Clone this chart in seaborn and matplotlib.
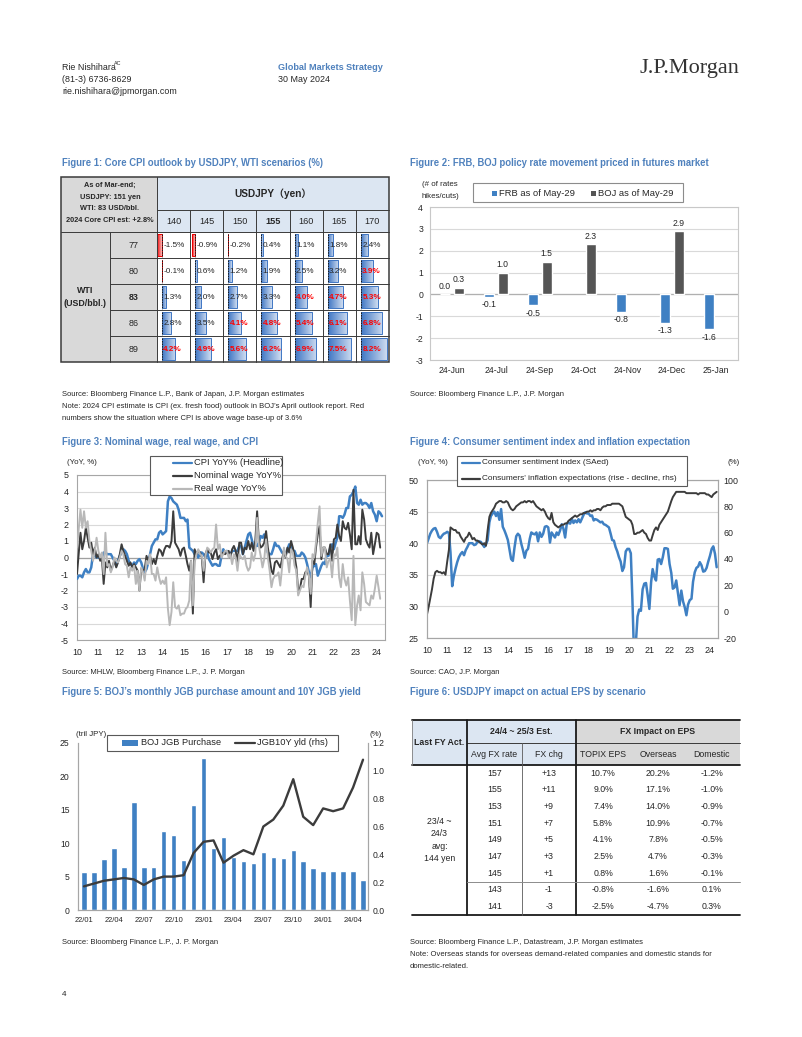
import numpy as np
import pandas as pd
import matplotlib
matplotlib.use("Agg")
import matplotlib.pyplot as plt
import matplotlib.dates as mdates
import seaborn as sns
from matplotlib import font_manager
from matplotlib.patches import Rectangle
from matplotlib.lines import Line2D
from matplotlib.colors import LinearSegmentedColormap

# ============================ DATA ============================
# Figure 1: core CPI grid (rows: WTI, cols: USDJPY)
usdjpy_levels = [140, 145, 150, 155, 160, 165, 170]
wti_levels = [77, 80, 83, 86, 89]
core_cpi_wti77 = [-1.5, -0.9, -0.2, 0.4, 1.1, 1.8, 2.4]
core_cpi_wti80 = [-0.1, 0.6, 1.2, 1.9, 2.5, 3.2, 3.9]
core_cpi_wti83 = [1.3, 2.0, 2.7, 3.3, 4.0, 4.7, 5.3]
core_cpi_wti86 = [2.8, 3.5, 4.1, 4.8, 5.4, 6.1, 6.8]
core_cpi_wti89 = [4.2, 4.9, 5.6, 6.2, 6.9, 7.5, 8.2]
wage_baseup = 3.6
bold_usdjpy = 155
bold_wti = 83

# Figure 2: policy rate moves priced (# of hikes/cuts)
fig2_months = ['24-Jun', '24-Jul', '24-Sep', '24-Oct', '24-Nov', '24-Dec', '25-Jan']
frb_moves = [0.0, -0.1, -0.5, np.nan, -0.8, -1.3, -1.6]
boj_moves = [0.3, 1.0, 1.5, 2.3, np.nan, 2.9, np.nan]

# Figure 3: monthly YoY %, Jan-2010 onwards
cpi_yoy = [
    -1.3, -1.1, -1.1, -1.2, -0.9, -0.7, -0.9, -0.9, -0.6, 0.2, 0.1, 0.0,
    0.0, 0.0, 0.0, 0.3, 0.3, 0.2, 0.2, 0.2, 0.0, -0.2, -0.5, -0.2,
    0.1, 0.3, 0.5, 0.4, 0.2, -0.2, -0.4, -0.5, -0.3, -0.4, -0.2, -0.1,
    -0.3, -0.7, -0.9, -0.7, -0.3, 0.2, 0.7, 0.9, 1.1, 1.1, 1.5, 1.6,
    1.4, 1.5, 1.6, 3.4, 3.7, 3.6, 3.4, 3.3, 3.2, 2.9, 2.4, 2.4,
    2.4, 2.2, 2.3, 0.6, 0.5, 0.4, 0.2, 0.2, 0.0, 0.3, 0.3, 0.2,
    0.0, 0.3, -0.1, -0.3, -0.5, -0.4, -0.4, -0.5, -0.5, 0.1, 0.5, 0.3,
    0.4, 0.3, 0.2, 0.4, 0.4, 0.4, 0.4, 0.7, 0.7, 0.2, 0.6, 1.0,
    1.4, 1.5, 1.1, 0.6, 0.7, 0.7, 0.9, 1.3, 1.2, 1.4, 0.8, 0.3,
    0.2, 0.2, 0.5, 0.9, 0.7, 0.7, 0.5, 0.3, 0.2, 0.2, 0.5, 0.8,
    0.7, 0.4, 0.4, 0.1, 0.1, 0.1, 0.3, 0.2, 0.0, -0.4, -0.9, -1.2,
    -0.6, -0.5, -0.4, -1.1, -0.8, -0.5, -0.3, -0.4, 0.2, 0.1, 0.6, 0.8,
    0.5, 0.9, 1.2, 2.5, 2.5, 2.4, 2.6, 3.0, 3.0, 3.7, 3.8, 4.0,
    4.3, 3.3, 3.2, 3.5, 3.2, 3.3, 3.3, 3.2, 3.0, 3.3, 2.8, 2.6,
    2.2, 2.8, 2.7, 2.5]
nominal_wage_yoy = [
    -1.0, 0.3, 1.5, 0.5, 1.0, 1.8, 1.2, 0.6, 0.9, 0.2, 0.6, 0.0,
    0.2, -0.2, 0.0, -1.6, -0.3, -0.6, -0.2, -0.8, -0.5, -0.2, -0.6, -0.3,
    0.2, 0.8, 0.4, 0.1, -0.2, -0.5, -0.3, -0.6, -0.4, -0.6, -0.8, -2.0,
    -0.7, -0.8, -0.7, 0.1, -0.2, 0.1, -0.4, -0.1, -0.4, 0.1, 0.5, 0.4,
    0.1, 0.5, 0.7, 0.7, 0.6, 1.0, 2.8, 0.9, 0.7, 0.5, 0.1, 0.5,
    0.6, 0.1, -0.4, -0.8, -0.2, -3.4, 0.5, 0.2, 0.4, 0.3, 0.0, -1.5,
    0.2, 0.5, 0.3, 0.3, -0.1, 0.3, 0.5, -0.1, 0.1, 0.2, 0.3, 0.2,
    0.3, 0.4, 0.0, 0.5, 0.7, 0.4, -0.3, 0.9, 0.9, 0.2, 0.6, 0.5,
    1.0, 0.5, 0.9, 0.4, 1.0, 2.8, 1.0, 0.6, 0.7, 0.9, 1.6, 0.6,
    -0.1, -0.8, -1.0, -0.3, -0.2, -0.4, -0.6, -0.1, 0.4, 0.0, 0.6, 0.3,
    1.0, 0.6, 0.1, -0.6, -2.0, -1.9, -1.3, -1.3, -0.9, -0.8, -1.1, -3.0,
    -0.2, -0.4, 0.6, 1.4, 1.9, -0.1, 0.6, 0.6, 0.2, 0.2, 0.8, -0.2,
    1.1, 1.2, 2.0, 1.3, 1.0, 2.2, 1.8, 1.7, 2.1, 1.4, 0.5, 4.1,
    0.8, 0.8, 1.3, 0.8, 2.9, 2.3, 1.1, 0.8, 0.6, 1.5, 0.2, 0.8,
    1.5, 1.4, 0.6]
real_wage_yoy = [
    0.6, 1.8, 2.9, 1.8, 2.8, 1.8, 2.2, 1.0, 0.4, -0.2, 0.4, 1.2,
    0.4, 0.0, 0.3, -1.0, 1.5, -0.5, -0.4, -0.9, -0.6, 0.0, -0.2, -0.3,
    0.0, 0.4, 0.2, -0.4, -0.5, -1.2, -0.6, -0.8, -0.5, -1.6, -0.8, -2.0,
    -0.6, -0.9, -1.4, -0.2, -0.4, 0.2, -1.0, -1.0, -1.4, -0.6, -1.2, -1.6,
    -1.4, -1.6, -1.2, -3.1, -4.1, -3.3, -1.5, -3.0, -3.1, -2.9, -3.5, -3.4,
    -3.4, -3.1, -3.0, -2.6, -0.2, -2.9, -0.3, 0.2, 0.5, 0.2, 0.1, -0.8,
    0.1, 0.6, 0.5, 0.3, 0.5, 0.6, 2.0, 0.5, 0.8, 0.0, 0.2, 0.4,
    0.4, 0.0, 0.2, -0.4, 0.2, 0.0, -0.8, 0.2, 0.0, -0.1, 0.1, -0.5,
    -0.8, -0.6, 0.3, -0.2, 0.2, 2.4, 0.7, 0.1, -0.6, -0.1, 1.1, 0.0,
    -0.8, -1.8, -1.3, -1.1, -1.1, -0.9, -1.7, -0.6, 0.6, 0.1, -0.1, -0.9,
    0.5, 0.3, -0.5, -0.8, -2.3, -2.0, -1.7, -1.8, -1.1, -0.6, -1.1, -2.2,
    0.2, 0.0, 0.9, 2.1, 3.1, 0.1, 0.6, 0.6, -0.6, -0.2, -0.1, -1.2,
    0.2, 0.1, 0.6, -1.2, -1.8, -0.4, -1.3, -1.7, -1.2, -2.6, -3.8, 0.1,
    -4.1, -2.9, -2.3, -3.2, -0.9, -1.6, -2.7, -2.8, -2.9, -2.3, -2.5, -1.9,
    -1.1, -1.8, -2.5]

# Figure 4: monthly, Jan-2010 onwards
consumer_sentiment = [
    40.0, 40.8, 41.5, 42.0, 42.3, 42.4, 41.8, 41.0, 40.8, 41.2, 41.5, 41.6,
    41.8, 41.6, 38.6, 33.2, 34.8, 36.0, 37.0, 37.8, 38.3, 38.6, 38.1, 38.9,
    39.4, 40.0, 40.0, 40.0, 39.7, 39.8, 40.2, 40.3, 40.2, 39.8, 39.4, 39.8,
    40.5, 43.3, 44.3, 44.7, 45.0, 44.3, 44.9, 43.7, 45.4, 42.6, 42.0, 41.3,
    40.5, 38.9, 37.5, 37.2, 39.3, 41.1, 41.5, 41.2, 39.9, 38.9, 37.7, 38.8,
    39.1, 40.7, 41.7, 41.5, 41.4, 41.7, 40.3, 41.7, 41.0, 41.5, 42.6, 42.7,
    42.5, 40.1, 41.7, 41.3, 40.9, 41.7, 41.3, 42.0, 43.0, 42.3, 40.9, 43.1,
    43.2, 43.1, 43.9, 43.2, 43.6, 43.3, 43.8, 43.3, 43.9, 44.5, 44.9, 44.7,
    44.7, 44.3, 44.4, 43.6, 43.8, 43.7, 43.5, 43.3, 43.4, 43.0, 42.9, 42.7,
    42.5, 41.5, 40.5, 40.4, 39.4, 38.7, 37.8, 37.1, 35.6, 36.2, 38.7, 39.1,
    39.1, 38.4, 30.9, 21.6, 24.1, 28.4, 29.5, 29.3, 32.7, 33.6, 33.7, 31.8,
    29.6, 33.8, 35.9, 34.7, 34.1, 37.4, 37.5, 36.7, 37.8, 39.2, 39.2, 39.1,
    36.7, 35.3, 32.8, 33.0, 34.1, 32.1, 30.2, 32.5, 30.8, 29.9, 28.6, 30.3,
    31.0, 31.2, 33.9, 35.4, 36.1, 36.3, 37.0, 36.5, 35.5, 35.6, 36.1, 37.1,
    38.0, 39.1, 39.5, 38.3, 36.2]
inflation_expectations = [
    -2, 4, 10, 17, 25, 30, 31, 30, 30, 29, 30, 28,
    38, 47, 64, 63, 62, 62, 60, 60, 57, 55, 53, 56,
    57, 60, 58, 55, 56, 54, 54, 53, 52, 51, 52, 50,
    62, 72, 75, 77, 79, 82, 83, 84, 84, 83, 83, 84,
    83, 80, 78, 77, 78, 80, 81, 82, 83, 83, 84, 83,
    84, 84, 83, 84, 82, 80, 79, 78, 77, 78, 76, 73,
    71, 70, 75, 68, 66, 65, 64, 65, 66, 66, 67, 67,
    69, 70, 71, 72, 73, 72, 73, 74, 74, 75, 75, 76,
    76, 77, 76, 77, 77, 78, 78, 77, 79, 80, 80, 81,
    81, 81, 82, 82, 82, 82, 82, 81, 80, 76, 72, 71,
    70, 69, 66, 59, 59, 60, 60, 61, 62, 60, 59, 56,
    54, 54, 58, 62, 64, 62, 66, 68, 70, 72, 74, 76,
    80, 84, 87, 89, 91, 91, 91, 91, 91, 91, 90, 90,
    90, 90, 90, 90, 90, 89, 90, 90, 90, 90, 89, 89,
    88, 87, 89, 90, 91]

# Figure 5: BOJ JGB purchase (tril JPY) and JGB 10Y yield (%)
jgb_months = ['22/01', '22/02', '22/03', '22/04', '22/05', '22/06', '22/07', '22/08',
              '22/09', '22/10', '22/11', '22/12', '23/01', '23/02', '23/03', '23/04',
              '23/05', '23/06', '23/07', '23/08', '23/09', '23/10', '23/11', '23/12',
              '24/01', '24/02', '24/03', '24/04', '24/05']
boj_jgb_purchase = [5.7, 5.7, 7.7, 9.3, 6.4, 16.2, 6.4, 6.4, 11.9, 11.3, 7.5, 15.7,
                    22.8, 9.3, 11.0, 8.0, 7.4, 7.1, 8.7, 7.9, 7.8, 9.0, 7.4, 6.3,
                    5.9, 5.9, 5.9, 5.9, 4.5]
jgb10y_yield = [0.17, 0.19, 0.21, 0.22, 0.23, 0.22, 0.18, 0.22, 0.24, 0.24, 0.25, 0.41,
                0.49, 0.50, 0.34, 0.39, 0.43, 0.40, 0.60, 0.65, 0.75, 0.94, 0.67, 0.61,
                0.73, 0.71, 0.73, 0.88, 1.08]

# Figure 6: FX impact on EPS
avg_fx_rate = [157, 155, 153, 151, 149, 147, 145, 143, 141]
fx_change = ['+13', '+11', '+9', '+7', '+5', '+3', '+1', '-1', '-3']
topix_eps = ['10.7%', '9.0%', '7.4%', '5.8%', '4.1%', '2.5%', '0.8%', '-0.8%', '-2.5%']
overseas_eps = ['20.2%', '17.1%', '14.0%', '10.9%', '7.8%', '4.7%', '1.6%', '-1.6%', '-4.7%']
domestic_eps = ['-1.2%', '-1.0%', '-0.9%', '-0.7%', '-0.5%', '-0.3%', '-0.1%', '0.1%', '0.3%']

# ============================ STYLE ============================
sns.set_theme(style='white')
avail = {f.name for f in font_manager.fontManager.ttflist}
NARROW_OK = 'Liberation Sans Narrow' in avail
BASE = 'Liberation Sans Narrow' if NARROW_OK else 'Liberation Sans'
plt.rcParams['font.family'] = [BASE, 'DejaVu Sans']
plt.rcParams['axes.unicode_minus'] = False
K = 1.0 if NARROW_OK else 0.84


def fs(x):
    return x * K


BLUE = '#3f80c3'
DARKBAR = '#555555'
DARKL = '#3c3c3c'
LIGHTL = '#b8b8b8'
TITLEC = '#4f81bd'
TXT = '#262626'
GRIDC = '#d9d9d9'
FRAMEC = '#a6a6a6'
HDR_BLUE = '#dce6f2'
HDR_GRAY = '#d9d9d9'

W, H = 802, 1037
fig = plt.figure(figsize=(W / 100, H / 100), dpi=100)
fig.patch.set_facecolor('white')


def rect(x0, y0, x1, y1):
    return [x0 / W, 1 - y1 / H, (x1 - x0) / W, (y1 - y0) / H]


# overlay for page-level text and legends
ov = fig.add_axes([0, 0, 1, 1], zorder=30)
ov.set_xlim(0, W)
ov.set_ylim(H, 0)
ov.axis('off')


def T(x, y, s, size=6.3, **kw):
    kw.setdefault('va', 'center')
    kw.setdefault('color', TXT)
    return ov.text(x, y, s, fontsize=fs(size), **kw)


# ---------------- page header ----------------
T(62, 68, 'Rie Nishihara', 7.6)
T(114, 63.5, 'AC', 4.6)
T(62, 80, '(81-3) 6736-8629', 7.6)
T(62, 92, 'rie.nishihara@jpmorgan.com', 7.6)
T(278, 67, 'Global Markets Strategy', 7.8, color=TITLEC, fontweight='bold')
T(278, 79, '30 May 2024', 7.6)
ov.text(640, 68, 'J.P.Morgan', fontsize=16, family=['Liberation Serif', 'DejaVu Serif'],
        color='#333333', va='center')
T(62, 995, '4', 7.0)

# ---------------- titles & sources ----------------
TS = 8.2
T(62, 163, 'Figure 1: Core CPI outlook by USDJPY, WTI scenarios (%)', TS, color=TITLEC, fontweight='bold')
T(410, 163, 'Figure 2: FRB, BOJ policy rate movement priced in futures market', TS, color=TITLEC, fontweight='bold')
T(62, 442, 'Figure 3: Nominal wage, real wage, and CPI', TS, color=TITLEC, fontweight='bold')
T(410, 442, 'Figure 4: Consumer sentiment index and inflation expectation', TS, color=TITLEC, fontweight='bold')
T(62, 692, "Figure 5: BOJ\u2019s monthly JGB purchase amount and 10Y JGB yield", TS, color=TITLEC, fontweight='bold')
T(410, 692, 'Figure 6: USDJPY imapct on actual EPS by scenario', TS, color=TITLEC, fontweight='bold')

SS = 6.55
T(62, 395, 'Source: Bloomberg Finance L.P., Bank of Japan, J.P. Morgan estimates', SS)
T(62, 407, "Note: 2024 CPI estimate is CPI (ex. fresh food) outlook in BOJ\u2019s April outlook report. Red", SS)
T(62, 419, 'numbers show the situation where CPI is above wage base-up of 3.6%', SS)
T(410, 395, 'Source: Bloomberg Finance L.P., J.P. Morgan', SS)
T(62, 672, 'Source: MHLW, Bloomberg Finance L.P., J. P. Morgan', SS)
T(410, 672, 'Source: CAO, J.P. Morgan', SS)
T(62, 942, 'Source: Bloomberg Finance L.P., J. P. Morgan', SS)
T(410, 942, 'Source: Bloomberg Finance L.P., Datastream, J.P. Morgan estimates', SS)
T(410, 954, 'Note: Overseas stands for overseas demand-related companies and domestic stands for', SS)
T(410, 966, 'domestic-related.', SS)

# ============================ FIGURE 1 (table with data bars) ============================
cpi_grid = [core_cpi_wti77, core_cpi_wti80, core_cpi_wti83, core_cpi_wti86, core_cpi_wti89]
ax1 = fig.add_axes(rect(61, 177, 389, 362))
ax1.axis('off')
L1, R1, T1, B1 = 61, 389, 177, 362
XV, XL = 110, 157       # value column / label block boundary
YH1, YH2 = 210, 232
col_edges = np.linspace(XL, R1, len(usdjpy_levels) + 1)
row_edges = np.linspace(YH2, B1, len(wti_levels) + 1)

ax1.add_patch(Rectangle((L1, T1), XL - L1, YH2 - T1, fc=HDR_GRAY, ec='none'))
ax1.add_patch(Rectangle((XL, T1), R1 - XL, YH2 - T1, fc=HDR_BLUE, ec='none'))
ax1.add_patch(Rectangle((L1, YH2), XL - L1, B1 - YH2, fc=HDR_GRAY, ec='none'))

hdr_lines = ['As of Mar-end;', 'USDJPY: 151 yen', 'WTI: 83 USD/bbl.', '2024 Core CPI est: +2.8%']
for k, s in enumerate(hdr_lines):
    ax1.text((L1 + XL) / 2 + 1, 185.5 + k * 11.6, s, ha='center', va='center', fontsize=fs(6.3),
             fontweight='bold', color=TXT)
ax1.text((XL + R1) / 2, (T1 + YH1) / 2, 'USDJPY\uff08yen\uff09', ha='center', va='center', fontsize=fs(8.6),
         fontweight='bold', color=TXT, family=[BASE, 'Noto Sans CJK JP', 'DejaVu Sans'])
for j, lv in enumerate(usdjpy_levels):
    ax1.text((col_edges[j] + col_edges[j + 1]) / 2, (YH1 + YH2) / 2, str(lv), ha='center', va='center',
             fontsize=fs(7.8), color=TXT, fontweight='bold' if lv == bold_usdjpy else 'normal')
ax1.text((L1 + XV) / 2, (YH2 + B1) / 2 - 6.5, 'WTI', ha='center', va='center', fontsize=fs(7.6),
         fontweight='bold', color=TXT)
ax1.text((L1 + XV) / 2, (YH2 + B1) / 2 + 6.5, '(USD/bbl.)', ha='center', va='center', fontsize=fs(7.6),
         fontweight='bold', color=TXT)

k_bar = 3.17
for i, wti in enumerate(wti_levels):
    yt, yb = row_edges[i], row_edges[i + 1]
    yc = (yt + yb) / 2
    ax1.text((XV + XL) / 2, yc, str(wti), ha='center', va='center', fontsize=fs(7.6), color=TXT,
             fontweight='bold' if wti == bold_wti else 'normal')
    for j, v in enumerate(cpi_grid[i]):
        x0 = col_edges[j] + 5.0
        hgt = (yb - yt) - 4.5
        strong = '#3f76c4' if v >= 0 else '#f00000'
        bc = ax1.barh(yc, v * k_bar, left=x0, height=hgt, color='none', edgecolor=strong,
                      linewidth=0.7, zorder=3)
        patch = bc.patches[0]
        xa, xb = sorted([x0, x0 + v * k_bar])
        g = np.linspace(0, 1, 64)[None, :]
        cm = LinearSegmentedColormap.from_list('g', [strong, '#ffffff'])
        im = ax1.imshow(g, extent=[xa, xb, yc + hgt / 2, yc - hgt / 2], cmap=cm, vmin=0, vmax=1.35,
                        aspect='auto', zorder=2, interpolation='bilinear')
        im.set_clip_path(patch)
        ax1.plot([x0, x0], [yt + 1.5, yb - 1.5], color='#1a1a1a', lw=0.7, ls=(0, (1.6, 1.0)), zorder=4)
        red = v > wage_baseup
        ax1.text(x0 + 1.4, yc + 0.3, f'{v:.1f}%', ha='left', va='center', fontsize=fs(7.0),
                 color='#ff0000' if red else TXT, fontweight='bold' if red else 'normal', zorder=5)

LC = '#3a3a3a'
kw = dict(color=LC, lw=0.7, clip_on=False, zorder=6)
for y in row_edges[1:-1]:
    ax1.plot([XV, R1], [y, y], **kw)
for x in col_edges[1:-1]:
    ax1.plot([x, x], [YH1, B1], **kw)
ax1.plot([XL, R1], [YH1, YH1], **kw)
ax1.plot([L1, R1], [YH2, YH2], **kw)
ax1.plot([XV, XV], [YH2, B1], **kw)
ax1.plot([XL, XL], [T1, B1], **kw)
ax1.add_patch(Rectangle((L1, T1), R1 - L1, B1 - T1, fill=False, ec=LC, lw=1.1, clip_on=False, zorder=6))
ax1.set_xlim(L1, R1)
ax1.set_ylim(B1, T1)

# ============================ FIGURE 2 ============================
ax2 = fig.add_axes(rect(430, 207, 738, 360))
df2 = pd.DataFrame({'month': fig2_months * 2,
                    'series': ['FRB as of May-29'] * len(fig2_months) + ['BOJ as of May-29'] * len(fig2_months),
                    'value': frb_moves + boj_moves}).dropna()
sns.barplot(data=df2, x='month', y='value', hue='series', order=fig2_months,
            hue_order=['FRB as of May-29', 'BOJ as of May-29'], palette=[BLUE, DARKBAR],
            width=0.62, gap=0.22, saturation=1, errorbar=None, legend=False, ax=ax2, zorder=3)
ax2.set_ylim(-3, 4)
ax2.set_yticks(range(-3, 5))
ax2.set_axisbelow(True)
ax2.yaxis.grid(True, color=GRIDC, lw=0.8)
ax2.axhline(0, color='#b0b0b0', lw=0.9, zorder=2)
for c in ax2.containers:
    ax2.bar_label(c, fmt='%.1f', padding=2.5, fontsize=fs(7.4), color=TXT)
ax2.set_xlabel('')
ax2.set_ylabel('')
ax2.tick_params(axis='both', length=0, labelsize=fs(7.4), colors=TXT)
ax2.tick_params(axis='x', pad=4.5)
ax2.tick_params(axis='y', pad=5)
for s in ax2.spines.values():
    s.set_color('#c8c8c8')
    s.set_linewidth(0.8)
T(422, 185, '(# of rates', 6.8)
T(421, 196.5, 'hikes/cuts)', 6.8)
ov.add_patch(Rectangle((473, 183), 210, 19, fc='white', ec='#8c8c8c', lw=0.8))
ov.add_patch(Rectangle((492, 190.5), 5, 5, fc=BLUE, ec='none'))
T(499, 193, 'FRB as of May-29', 8.0)
ov.add_patch(Rectangle((591, 190.5), 5, 5, fc=DARKBAR, ec='none'))
T(598, 193, 'BOJ as of May-29', 8.0)

# ============================ FIGURE 3 ============================
ax3 = fig.add_axes(rect(77, 475, 385, 640))
d_cpi = pd.date_range('2010-01-01', periods=len(cpi_yoy), freq='MS')
d_wage = pd.date_range('2010-01-01', periods=len(nominal_wage_yoy), freq='MS')
sns.lineplot(x=d_cpi, y=cpi_yoy, ax=ax3, color=BLUE, lw=1.8, zorder=3)
sns.lineplot(x=d_wage, y=nominal_wage_yoy, ax=ax3, color=DARKL, lw=1.4, zorder=4)
sns.lineplot(x=d_wage, y=real_wage_yoy, ax=ax3, color=LIGHTL, lw=1.4, zorder=5)
ax3.set_ylim(-5, 5)
ax3.set_yticks(range(-5, 6))
ax3.set_xlim(pd.Timestamp('2010-01-01'), pd.Timestamp('2024-05-22'))
ax3.xaxis.set_major_locator(mdates.YearLocator(1))
ax3.xaxis.set_major_formatter(mdates.DateFormatter('%y'))
ax3.set_axisbelow(True)
ax3.yaxis.grid(True, color=GRIDC, lw=0.8)
ax3.axhline(0, color='#a0a0a0', lw=0.9, zorder=2)
ax3.tick_params(axis='y', length=0, labelsize=fs(7.6), colors=TXT, pad=6)
ax3.tick_params(axis='x', length=2.5, width=0.6, direction='out', labelsize=fs(7.6), pad=3,
                colors=FRAMEC, labelcolor=TXT)
ax3.set_xlabel('')
ax3.set_ylabel('')
for s in ax3.spines.values():
    s.set_color(FRAMEC)
    s.set_linewidth(0.8)
T(67, 463, '(YoY, %)', 6.8)
ov.add_patch(Rectangle((150, 456), 132, 39, fc='white', ec='#595959', lw=0.8))
for k, (lab, col) in enumerate([('CPI YoY% (Headline)', BLUE), ('Nominal wage YoY%', DARKL),
                                ('Real wage YoY%', LIGHTL)]):
    yy = 462.5 + k * 13
    ov.add_line(Line2D([173, 192], [yy, yy], color=col, lw=1.6))
    T(193.5, yy, lab, 8.0)

# ============================ FIGURE 4 ============================
ax4 = fig.add_axes(rect(427, 480, 718, 638))
d4 = pd.date_range('2010-01-01', periods=len(consumer_sentiment), freq='MS')
sns.lineplot(x=d4, y=consumer_sentiment, ax=ax4, color=BLUE, lw=1.8)
ax4.set_ylim(25, 50)
ax4.set_yticks(range(25, 51, 5))
ax4b = ax4.twinx()
sns.lineplot(x=d4, y=inflation_expectations, ax=ax4b, color=DARKL, lw=1.4)
ax4b.set_ylim(-20, 100)
ax4b.set_yticks(range(-20, 101, 20))
for a in (ax4, ax4b):
    a.set_xlim(pd.Timestamp('2010-01-01'), pd.Timestamp('2024-05-25'))
    a.set_xlabel('')
    a.set_ylabel('')
ax4.xaxis.set_major_locator(mdates.YearLocator(1))
ax4.xaxis.set_major_formatter(mdates.DateFormatter('%y'))
ax4.set_axisbelow(True)
ax4.yaxis.grid(True, color=GRIDC, lw=0.8)
ax4.tick_params(axis='y', length=0, labelsize=fs(7.6), colors=TXT, pad=6)
ax4b.tick_params(axis='y', length=0, labelsize=fs(7.6), colors=TXT, pad=4)
ax4.tick_params(axis='x', length=2.5, width=0.6, direction='out', labelsize=fs(7.6), pad=3,
                colors=FRAMEC, labelcolor=TXT)
for a in (ax4, ax4b):
    for s in a.spines.values():
        s.set_color(FRAMEC)
        s.set_linewidth(0.8)
T(418, 463, '(YoY, %)', 6.8)
T(728, 463, '(%)', 6.8)
ov.add_patch(Rectangle((457, 456), 230, 30, fc='white', ec='#595959', lw=0.8))
for k, (lab, col) in enumerate([('Consumer sentiment index (SAed)', BLUE),
                                ("Consumers' inflation expectations (rise - decline, rhs)", DARKL)]):
    yy = 462.5 + k * 16
    ov.add_line(Line2D([462, 480], [yy, yy], color=col, lw=1.6))
    T(481.5, yy, lab, 7.1)

# ============================ FIGURE 5 ============================
ax5 = fig.add_axes(rect(78, 743, 368, 910))
df5 = pd.DataFrame({'month': jgb_months, 'purchase': boj_jgb_purchase})
sns.barplot(data=df5, x='month', y='purchase', color=BLUE, width=0.55, saturation=1, errorbar=None, ax=ax5)
ax5b = ax5.twinx()
sns.lineplot(x=np.arange(len(jgb10y_yield)), y=jgb10y_yield, ax=ax5b, color=DARKL, lw=1.7)
ax5.set_ylim(0, 25)
ax5.set_yticks(range(0, 26, 5))
ax5b.set_ylim(0, 1.2)
ax5b.set_yticks(np.arange(0, 1.21, 0.2))
ax5b.set_yticklabels([f'{v:.1f}' for v in np.arange(0, 1.21, 0.2)])
for a in (ax5, ax5b):
    a.set_xlim(-0.6, len(jgb_months) - 0.5)
    a.set_xlabel('')
    a.set_ylabel('')
ax5.set_xticks(range(0, len(jgb_months), 3))
ax5.set_xticklabels(jgb_months[::3])
ax5.tick_params(axis='x', length=2.5, width=0.6, direction='out', labelsize=fs(6.4), pad=2.5,
                colors=FRAMEC, labelcolor=TXT)
ax5.tick_params(axis='y', length=0, labelsize=fs(7.4), colors=TXT, pad=6)
ax5b.tick_params(axis='y', length=0, labelsize=fs(7.4), colors=TXT, pad=3)
for a in (ax5, ax5b):
    for s in a.spines.values():
        s.set_color(FRAMEC)
        s.set_linewidth(0.8)
    a.spines['top'].set_visible(False)
T(76, 734, '(tril JPY)', 6.8)
T(370, 734, '(%)', 6.8)
ov.add_patch(Rectangle((107, 735), 231, 15.5, fc='white', ec='#595959', lw=0.8))
ov.add_patch(Rectangle((122, 740), 16, 5.5, fc=BLUE, ec='none'))
T(141, 742.8, 'BOJ JGB Purchase', 7.9)
ov.add_line(Line2D([235, 255], [742.8, 742.8], color=DARKL, lw=1.6))
T(257, 742.8, 'JGB10Y yld (rhs)', 7.9)

# ============================ FIGURE 6 (table) ============================
ax6 = fig.add_axes(rect(412, 720, 740, 915))
ax6.axis('off')
L6, R6, T6, B6 = 412, 740, 720, 915
C1, C2, C3 = 467, 522, 576
Y1, Y2 = 743, 765
fx_centers = [603, 658, 712]
ax6.add_patch(Rectangle((L6, T6), C3 - L6, Y2 - T6, fc=HDR_BLUE, ec='none'))
ax6.add_patch(Rectangle((C3, T6), R6 - C3, Y2 - T6, fc=HDR_GRAY, ec='none'))
HS = 7.5
ax6.text((L6 + C1) / 2, (T6 + Y2) / 2, 'Last FY Act.', ha='center', va='center', fontsize=fs(HS),
         fontweight='bold', color=TXT)
ax6.text((C1 + C3) / 2, (T6 + Y1) / 2, '24/4 ~ 25/3 Est.', ha='center', va='center', fontsize=fs(HS),
         fontweight='bold', color=TXT)
ax6.text((C3 + R6) / 2, (T6 + Y1) / 2, 'FX Impact on EPS', ha='center', va='center', fontsize=fs(HS),
         fontweight='bold', color=TXT)
ax6.text((C1 + C2) / 2, (Y1 + Y2) / 2 + 0.5, 'Avg FX rate', ha='center', va='center', fontsize=fs(HS), color=TXT)
ax6.text((C2 + C3) / 2, (Y1 + Y2) / 2 + 0.5, 'FX chg', ha='center', va='center', fontsize=fs(HS), color=TXT)
for cx, lab in zip(fx_centers, ['TOPIX EPS', 'Overseas', 'Domestic']):
    ax6.text(cx, (Y1 + Y2) / 2 + 0.5, lab, ha='center', va='center', fontsize=fs(HS), color=TXT)

n6 = len(avg_fx_rate)
r_edges = np.linspace(Y2, B6, n6 + 1)
for i in range(n6):
    yc = (r_edges[i] + r_edges[i + 1]) / 2
    ax6.text((C1 + C2) / 2, yc, str(avg_fx_rate[i]), ha='center', va='center', fontsize=fs(HS), color=TXT)
    ax6.text((C2 + C3) / 2, yc, fx_change[i], ha='center', va='center', fontsize=fs(HS), color=TXT)
    for cx, vals in zip(fx_centers, [topix_eps, overseas_eps, domestic_eps]):
        ax6.text(cx, yc, vals[i], ha='center', va='center', fontsize=fs(HS), color=TXT)
ax6.text((L6 + C1) / 2, (Y2 + B6) / 2, '23/4 ~\n24/3\navg:\n144 yen', ha='center', va='center',
         fontsize=fs(HS), color=TXT, linespacing=1.45)

kw6 = dict(clip_on=False, zorder=6)
ax6.plot([L6, R6], [T6, T6], color='#1a1a1a', lw=1.3, **kw6)
ax6.plot([L6, R6], [Y2, Y2], color='#1a1a1a', lw=1.3, **kw6)
ax6.plot([L6, R6], [B6, B6], color='#1a1a1a', lw=1.3, **kw6)
ax6.plot([C1, R6], [Y1, Y1], color='#3a3a3a', lw=0.7, **kw6)
ax6.plot([C1, C1], [T6, B6], color='#1a1a1a', lw=1.3, **kw6)
ax6.plot([C3, C3], [T6, B6], color='#1a1a1a', lw=1.3, **kw6)
ax6.plot([C2, C2], [Y1, B6], color='#5a5a5a', lw=0.6, **kw6)
ax6.plot([L6, L6], [T6, Y2], color='#7f7f7f', lw=0.6, **kw6)
ax6.plot([C1, R6], [r_edges[7], r_edges[7]], color='#8c8c8c', lw=0.7, **kw6)
ax6.set_xlim(L6, R6)
ax6.set_ylim(B6, T6)

fig.savefig('out.png', dpi=100, facecolor='white')
